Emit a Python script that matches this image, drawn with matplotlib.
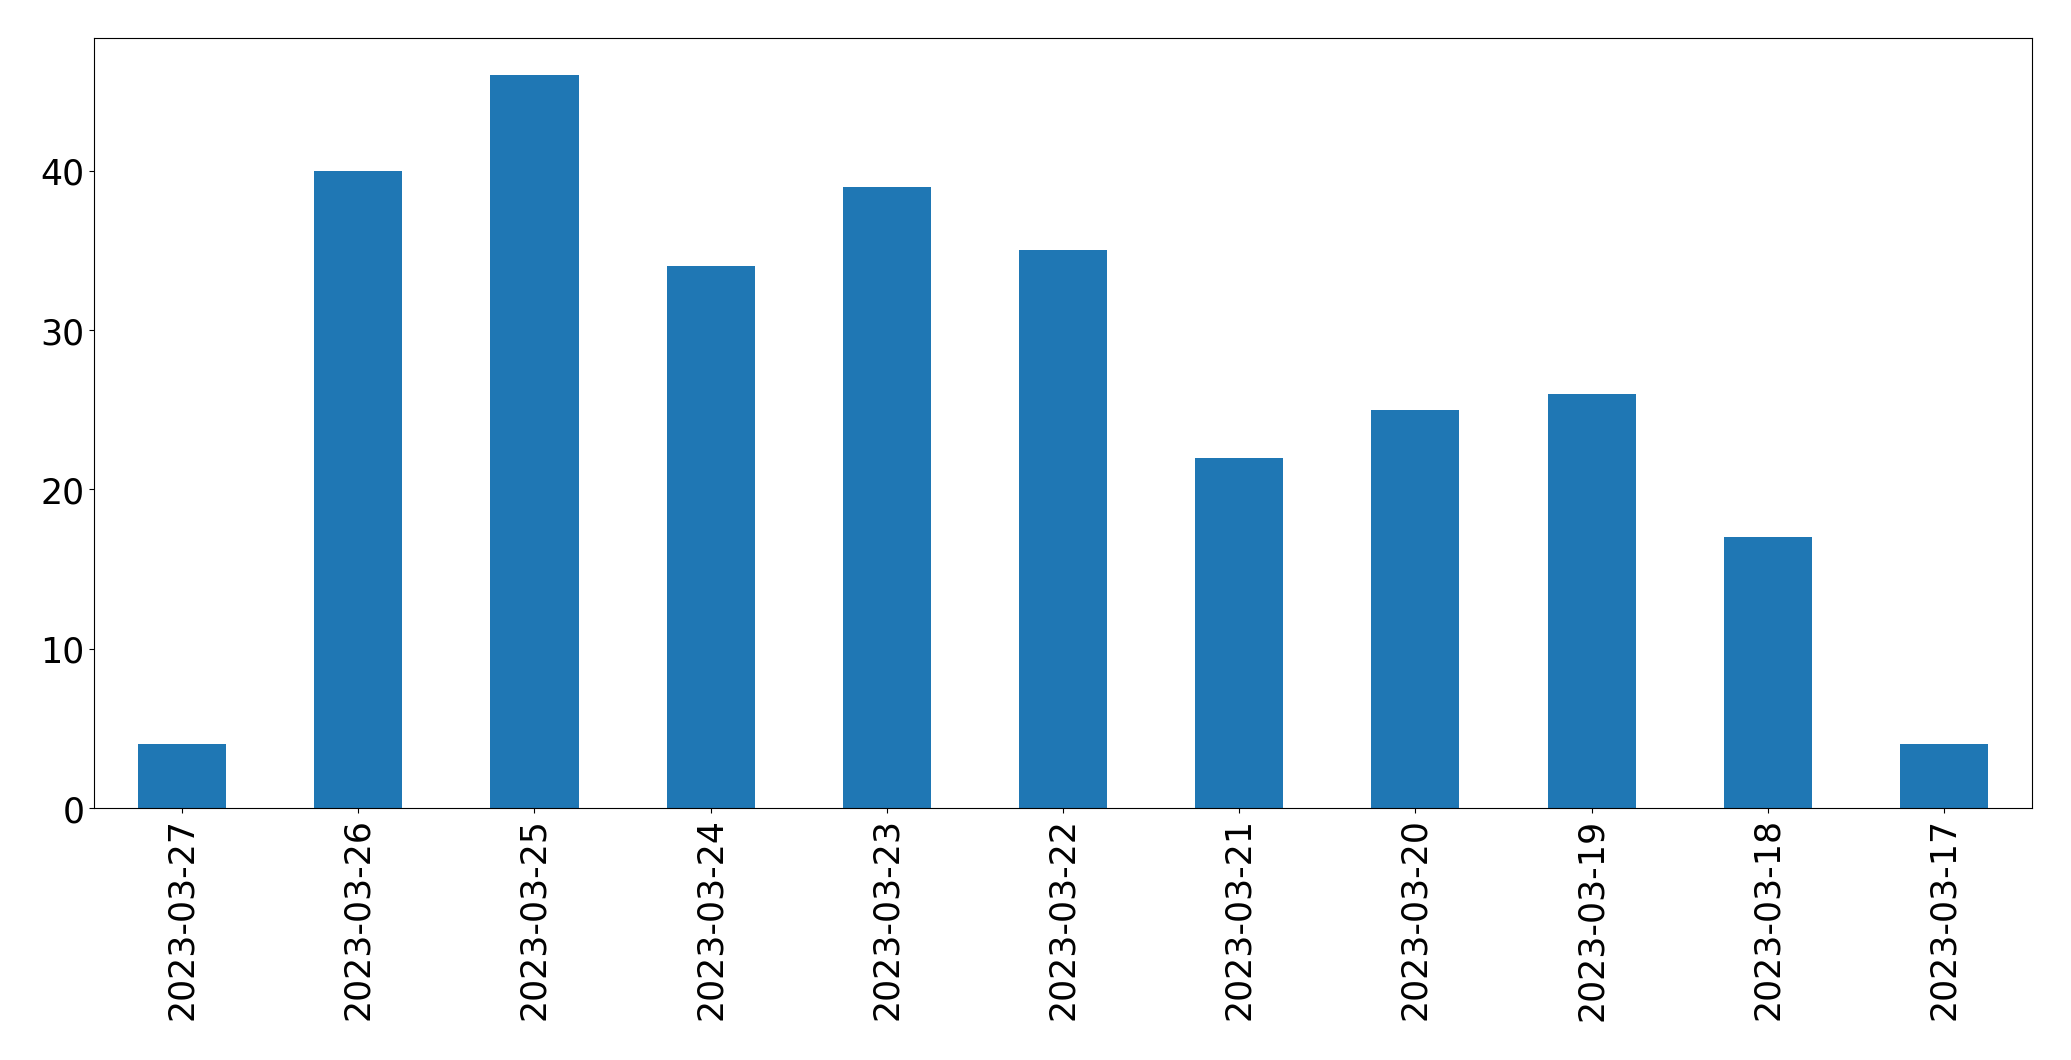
import pandas as pd
import matplotlib.pyplot as plt

# Data
dates = ['2023-03-27', '2023-03-26', '2023-03-25', '2023-03-24', '2023-03-23',
         '2023-03-22', '2023-03-21', '2023-03-20', '2023-03-19', '2023-03-18',
         '2023-03-17']
counts = [4, 40, 46, 34, 39, 35, 22, 25, 26, 17, 4]

s = pd.Series(counts, index=dates)

fig = plt.figure(figsize=(20.71, 10.605), dpi=100)
ax = fig.add_subplot(111)
s.plot(kind='bar', ax=ax, color='#1f77b4', fontsize=25)
ax.set_xlabel('')

fig.subplots_adjust(left=94 / 2071, right=2032 / 2071, top=1 - 39 / 1061, bottom=1 - 809 / 1061)
fig.savefig('out.png', dpi=100)
